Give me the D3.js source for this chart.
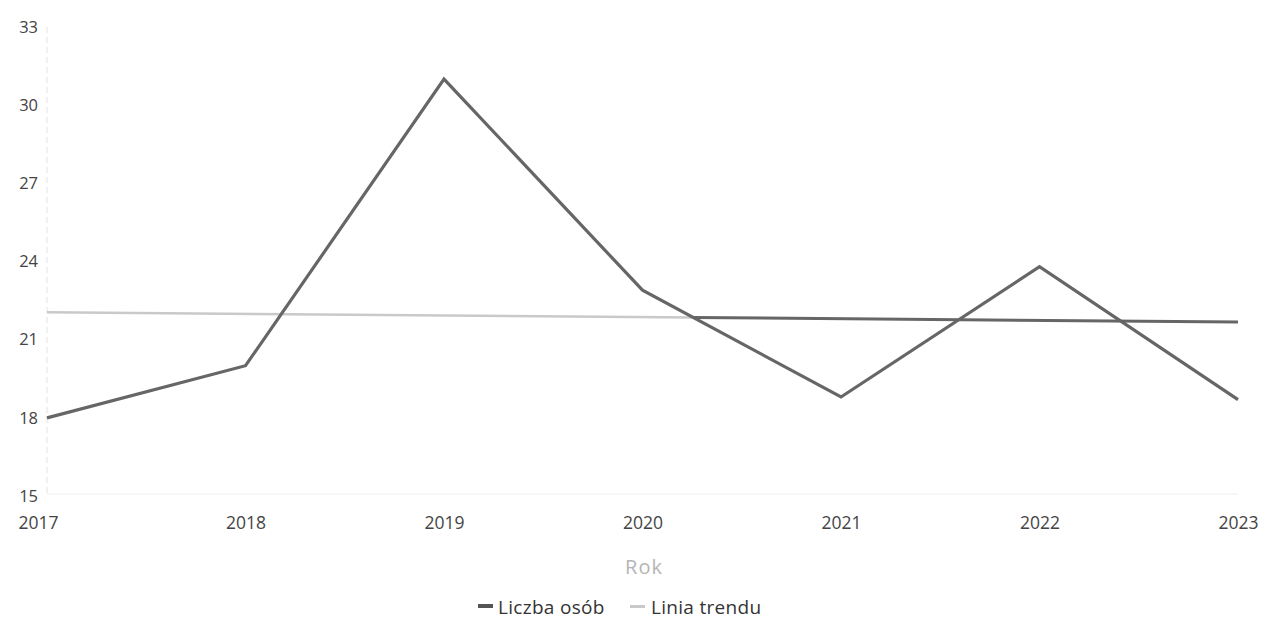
<!DOCTYPE html>
<html><head><meta charset="utf-8">
<script src="https://cdn.jsdelivr.net/npm/d3@7"></script>
<style>
body{margin:0;background:#fff;}
svg{font-family:"Open Sans","Noto Sans",sans-serif;}
</style></head>
<body><svg id="c" width="1261" height="624"></svg>
<script>
const years = [2017, 2018, 2019, 2020, 2021, 2022, 2023];
const liczbaOsob = [18, 20, 31, 22.9, 18.8, 23.8, 18.7];
const trendYears = [2017, 2023];
const trendValues = [22.05, 21.68];
const yTicks = [15, 18, 21, 24, 27, 30, 33];
const seriesNames = ["Liczba osób", "Linia trendu"];
const xTitle = "Rok";

const svg = d3.select("#c");
const x = d3.scaleLinear().domain([2017, 2023]).range([47, 1238]);
const y = d3.scaleLinear().domain([15, 33]).range([496, 27]);

// y axis faint dashed line
svg.append("line").attr("x1", x(2017)).attr("x2", x(2017)).attr("y1", y(33)).attr("y2", y(15))
  .attr("stroke", "#e2e2e2").attr("stroke-width", 1).attr("stroke-dasharray", "6,4");
// baseline
svg.append("line").attr("x1", x(2017)).attr("x2", x(2023)).attr("y1", y(15) - 2).attr("y2", y(15) - 2)
  .attr("stroke", "#efefef").attr("stroke-width", 1);

const yAxis = d3.axisLeft(y).tickValues(yTicks).tickSize(0).tickPadding(9);
const gy = svg.append("g").attr("transform", `translate(${x(2017)},0)`).call(yAxis);
gy.select(".domain").remove();
gy.selectAll("text").attr("font-size", 16.5).attr("fill", "#444").attr("font-family", "Open Sans");

const xAxis = d3.axisBottom(x).tickValues(years).tickFormat(d3.format("d")).tickSize(0).tickPadding(11);
const gx = svg.append("g").attr("transform", `translate(0,${y(15) + 10})`).call(xAxis);
gx.select(".domain").remove();
gx.selectAll("text").attr("font-size", 17.5).attr("fill", "#444").attr("font-family", "Open Sans")
  .attr("text-anchor", (d, i) => i === 0 ? "start" : (i === years.length - 1 ? "end" : "middle"))
  .attr("dx", (d, i) => i === 0 ? -29 : (i === years.length - 1 ? 20 : 0));

svg.append("text").attr("x", 644).attr("y", 574).attr("text-anchor", "middle")
  .attr("font-size", 20).attr("letter-spacing", 1).attr("fill", "#b5b5b5").text(xTitle);

// trend line: light part then dark part after crossing with data
const tAt = yr => trendValues[0] + (trendValues[1] - trendValues[0]) * (yr - trendYears[0]) / (trendYears[1] - trendYears[0]);
const i0 = 3;
const d0 = liczbaOsob[i0] - tAt(years[i0]), d1 = liczbaOsob[i0 + 1] - tAt(years[i0 + 1]);
const cross = years[i0] + d0 / (d0 - d1);
const line = d3.line().x(d => x(d[0])).y(d => y(d[1]));
svg.append("path").datum([[trendYears[0], trendValues[0]], [cross, tAt(cross)]])
  .attr("d", line).attr("fill", "none").attr("stroke", "#c9c9c9").attr("stroke-width", 2.5);
svg.append("path").datum([[cross, tAt(cross)], [trendYears[1], trendValues[1]]])
  .attr("d", line).attr("fill", "none").attr("stroke", "#666").attr("stroke-width", 3);

svg.append("path").datum(years.map((yr, i) => [yr, liczbaOsob[i]]))
  .attr("d", line).attr("fill", "none").attr("stroke", "#666").attr("stroke-width", 3.2)
  .attr("stroke-linejoin", "miter");

// legend
const lg = svg.append("g").attr("transform", "translate(478,607)");
lg.append("rect").attr("x", 0).attr("y", -3).attr("width", 15).attr("height", 4).attr("fill", "#555");
lg.append("text").attr("x", 20).attr("y", 0).attr("dy", "0.35em").attr("font-size", 19).attr("letter-spacing", 0.3).attr("fill", "#333").text(seriesNames[0]);
lg.append("rect").attr("x", 152).attr("y", -2).attr("width", 15).attr("height", 3).attr("fill", "#c9c9c9");
lg.append("text").attr("x", 173).attr("y", 0).attr("dy", "0.35em").attr("font-size", 19).attr("letter-spacing", 0.3).attr("fill", "#333").text(seriesNames[1]);
</script></body></html>
